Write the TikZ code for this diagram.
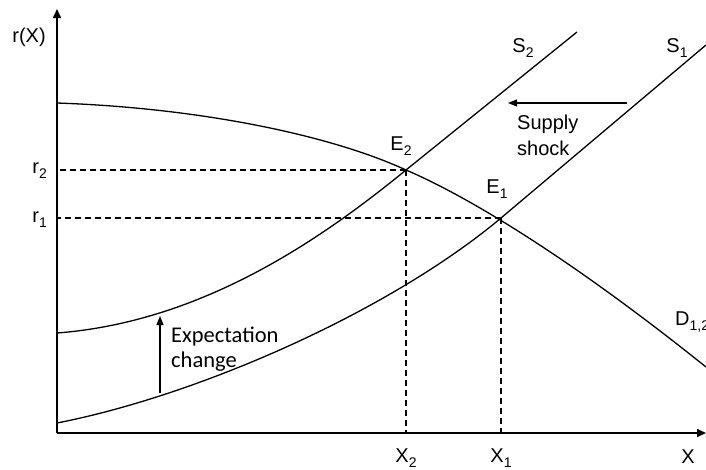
\documentclass[tikz,border=0pt]{standalone}
\usepackage{fontspec}
\setmainfont{Liberation Sans}
\newfontfamily\calfont{Carlito}
\usepackage{tikz}
\usetikzlibrary{arrows.meta,calc}
\newcommand\lsub[2]{#1\raisebox{-5pt}{\fontsize{14}{14}\selectfont #2}}
\tikzset{
  lbl/.style={font=\fontsize{20}{26}\selectfont, inner sep=0pt, align=left},
  note/.style={font=\calfont\fontsize{22.5}{25}\selectfont, inner sep=0pt, align=left},
  curve/.style={line width=1.3pt},
  axis/.style={line width=1.6pt, -{Triangle[length=9pt,width=8pt]}},
  guide/.style={line width=1.3pt, dash pattern=on 6pt off 4pt},
  movearr/.style={line width=1.3pt, -{Triangle[length=9pt,width=7pt]}},
}

\begin{document}
\begin{tikzpicture}[x=1pt,y=-1pt]
    \useasboundingbox (0,0) rectangle (706,469);
    \coordinate (O) at (57,433);
    \coordinate (ytop) at (57,9);
    \coordinate (xend) at (706,433);
    \coordinate (E2) at (406,170);
    \coordinate (E1) at (501,218);
    \coordinate (Da) at (57,103);
    \coordinate (Db) at (706,367);
    \coordinate (S1a) at (57,423);
    \coordinate (S1b) at (706,45);
    \coordinate (S2a) at (57,333);
    \coordinate (S2b) at (577,32);
    \draw[axis] (O) -- (ytop);
    \draw[axis] (O) -- (xend);
    \foreach \e in {E1,E2}{\draw[guide] (\e) -- (\e |- O); \draw[guide] (\e) -- (\e -| O);}
    \draw[curve] (Da) .. controls (200,108) and (330,135) .. (E2)
      .. controls (460,193) and (560,250) .. (Db);
    \draw[curve] (S1a) .. controls (200,395) and (390,311) .. (E1) -- (S1b);
    \draw[curve] (S2a) .. controls (200,322) and (318,242) .. (E2) -- (S2b);
    \node[lbl, anchor=base] (ry) at (29,42) {r(X)};
    \node[lbl, anchor=base east] (r2) at (47,173) {\lsub{r}{2}};
    \node[lbl, anchor=base east] (r1) at (47,222) {\lsub{r}{1}};
    \node[lbl, anchor=base] (x2) at (406,462) {\lsub{X}{2}};
    \node[lbl, anchor=base] (x1) at (501,462) {\lsub{X}{1}};
    \node[lbl, anchor=base] (xl) at (688,463) {X};
    \node[lbl, anchor=base] (e2) at (401,150) {\lsub{E}{2}};
    \node[lbl, anchor=base] (e1) at (497,193) {\lsub{E}{1}};
    \node[lbl, anchor=base] (s2) at (523,52) {\lsub{S}{2}};
    \node[lbl, anchor=base] (s1) at (677,52) {\lsub{S}{1}};
    \node[lbl, anchor=base west] (d) at (675,325) {\lsub{D}{1,2}};
    \coordinate (shA) at (627,103);
    \coordinate (shB) at (508,103);
    \draw[movearr] (shA) -- (shB);
    \node[lbl, anchor=base west] (sh) at (517,155) {Supply\\shock};
    \coordinate (exA) at (160,393);
    \coordinate (exB) at (160,316);
    \draw[movearr] (exA) -- (exB);
    \node[note, anchor=base west] (ex) at (171,367) {Expectation\\change};
\end{tikzpicture}
\end{document}
